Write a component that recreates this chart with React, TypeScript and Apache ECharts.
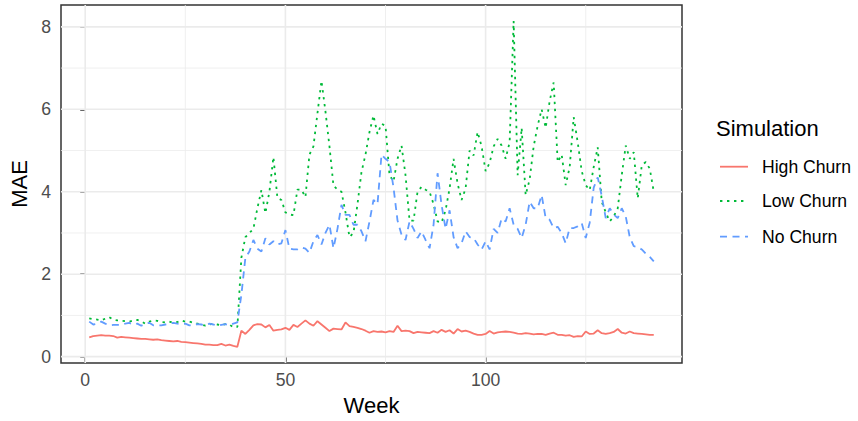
import React, { useEffect, useRef } from "react";
import * as echarts from "echarts";

const weeks: number[] = Array.from({ length: 142 }, (_, i) => i + 1);

const highChurn = [
  0.47, 0.5, 0.51, 0.52, 0.51, 0.51, 0.5, 0.46, 0.48, 0.47,
  0.46, 0.45, 0.44, 0.43, 0.43, 0.42, 0.41, 0.42, 0.4, 0.39,
  0.38, 0.37, 0.38, 0.36, 0.35, 0.34, 0.33, 0.32, 0.31, 0.29,
  0.29, 0.28, 0.28, 0.31, 0.27, 0.29, 0.26, 0.24,
  0.63, 0.55, 0.65, 0.76, 0.79, 0.78, 0.71, 0.77, 0.63, 0.65, 0.66, 0.7,
  0.65, 0.77, 0.72, 0.8, 0.88, 0.8, 0.75, 0.86, 0.78, 0.7,
  0.62, 0.68, 0.67, 0.66, 0.83, 0.74, 0.72, 0.7, 0.67, 0.63,
  0.58, 0.62, 0.6, 0.61, 0.59, 0.62, 0.6, 0.75, 0.62, 0.63,
  0.62, 0.57, 0.6, 0.59, 0.58, 0.57, 0.62, 0.58, 0.65, 0.6,
  0.64, 0.56, 0.67, 0.61, 0.63, 0.6, 0.56, 0.53, 0.53, 0.55,
  0.62, 0.56, 0.59, 0.6, 0.61, 0.6, 0.58, 0.56, 0.55, 0.57,
  0.56, 0.54, 0.55, 0.55, 0.53, 0.56, 0.58, 0.53, 0.53, 0.51,
  0.52, 0.48, 0.5, 0.49, 0.61, 0.55, 0.56, 0.64, 0.57, 0.55,
  0.57, 0.6, 0.67, 0.58, 0.56, 0.61, 0.57, 0.56, 0.55, 0.54, 0.53, 0.53,
];

const lowChurn = [
  0.93, 0.91, 0.9, 0.88, 0.92, 0.96, 0.9, 0.88, 0.87, 0.86,
  0.85, 0.88, 0.89, 0.86, 0.8, 0.85, 0.88, 0.87, 0.84, 0.83,
  0.85, 0.82, 0.84, 0.88, 0.85, 0.85, 0.82, 0.8, 0.78, 0.75,
  0.78, 0.8, 0.78, 0.76, 0.79, 0.78, 0.71, 0.72,
  2.4, 2.9, 3.0, 3.1, 3.6, 4.04, 3.48, 4.0, 4.84, 3.85, 3.8, 3.5,
  3.45, 3.43, 4.05, 4.05, 3.87, 4.9, 5.1, 5.9, 6.69, 5.95,
  5.1, 4.15, 4.05, 4.0, 3.5, 2.9, 3.0, 3.7, 4.48, 4.9,
  5.45, 5.85, 5.4, 5.65, 5.6, 4.4, 4.25, 4.8, 5.12, 4.4,
  3.3, 3.3, 4.0, 4.12, 4.05, 4.0, 3.7, 3.28, 3.25, 3.55,
  4.08, 4.8, 4.2, 3.8, 4.08, 5.0, 4.88, 5.45, 5.1, 4.5,
  4.7, 5.1, 5.28, 5.12, 4.8, 5.2, 8.14, 4.4, 5.55, 3.92,
  4.3, 5.1, 5.6, 6.0, 5.55, 6.2, 6.65, 4.72, 4.9, 4.16,
  4.6, 5.81, 5.2, 4.5, 4.16, 4.04, 4.6, 5.08, 3.76, 3.5,
  3.28, 3.4, 3.6, 4.4, 5.12, 4.8, 4.96, 3.84, 4.64, 4.72, 4.56, 4.0,
];

const noChurn = [
  0.85, 0.78, 0.8, 0.85, 0.8, 0.76, 0.77, 0.77, 0.77, 0.8,
  0.82, 0.78, 0.8, 0.75, 0.8, 0.82, 0.76, 0.76, 0.76, 0.78,
  0.8, 0.82, 0.8, 0.79, 0.8, 0.76, 0.75, 0.79, 0.78, 0.76,
  0.8, 0.78, 0.75, 0.77, 0.79, 0.76, 0.8, 0.83,
  1.5, 2.4, 2.55, 2.83, 2.62, 2.55, 2.87, 2.72, 2.8, 2.72, 2.75, 3.07,
  2.62, 2.6, 2.6, 2.65, 2.62, 2.52, 2.8, 2.95, 2.72, 3.0,
  3.2, 2.63, 3.1, 3.68, 3.44, 3.44, 3.2, 3.2, 3.04, 2.8,
  3.28, 3.8, 3.7, 4.9, 4.8, 4.72, 4.1, 3.3, 2.96, 2.83,
  3.28, 3.1, 2.88, 3.04, 2.83, 2.63, 3.2, 4.45, 3.68, 3.1,
  3.55, 2.9, 2.63, 2.75, 3.04, 2.9, 2.88, 2.72, 2.6, 2.8,
  2.6, 3.1, 3.0, 3.35, 3.28, 3.6, 3.2, 3.1, 2.88, 3.2,
  3.76, 3.6, 3.6, 3.92, 3.36, 3.32, 3.12, 3.15, 3.0, 2.75,
  3.12, 3.12, 3.16, 3.24, 2.88, 3.25, 4.1, 4.35, 3.9, 3.36,
  3.6, 3.45, 3.36, 3.6, 3.4, 2.9, 2.68, 2.66, 2.6, 2.5, 2.42, 2.31,
];

const seriesNames = ["High Churn", "Low Churn", "No Churn"];
const seriesColors = ["#F8766D", "#00BA38", "#619CFF"];
const seriesDash: (number[] | null)[] = [null, [2.4, 4.6], [7, 5.5]];
const xTickValues = [0, 50, 100];
const xMinorValues = [25, 75, 125];
const yTickValues = [0, 2, 4, 6, 8];
const yMinorValues = [1, 3, 5, 7];

const X_MIN = -6.05;
const X_MAX = 149.05;
const Y_MIN = -0.154;
const Y_MAX = 8.53;
const FONT = "Liberation Sans, Arial, Helvetica, sans-serif";
const LINE_W = 1.8;

function gridLine(v: number, vertical: boolean, width: number) {
  return {
    type: "line",
    name: "grid",
    data: vertical
      ? [
          [v, Y_MIN],
          [v, Y_MAX],
        ]
      : [
          [X_MIN, v],
          [X_MAX, v],
        ],
    symbol: "none",
    silent: true,
    z: 1,
    lineStyle: { color: "#EBEBEB", width },
  };
}

export default function App() {
  const ref = useRef<HTMLDivElement>(null);
  useEffect(() => {
    document.body.style.margin = "0";
    const chart = echarts.init(ref.current!, undefined, { renderer: "svg" });
    const dataSeries = [highChurn, lowChurn, noChurn].map((vals, i) => ({
      type: "line",
      name: seriesNames[i],
      data: weeks.map((w, j) => [w, vals[j]]),
      symbol: "none",
      z: 3,
      lineStyle: {
        color: seriesColors[i],
        width: LINE_W,
        type: seriesDash[i] ?? "solid",
        cap: "butt",
      },
      itemStyle: { color: seriesColors[i] },
    }));
    const grids = [
      ...xMinorValues.map((v) => gridLine(v, true, 0.8)),
      ...yMinorValues.map((v) => gridLine(v, false, 0.8)),
      ...xTickValues.map((v) => gridLine(v, true, 1.6)),
      ...yTickValues.map((v) => gridLine(v, false, 1.6)),
    ];
    const legendRowY = [166.7, 201, 236.7];
    const legendGraphics: any[] = [
      {
        type: "text",
        left: 716,
        top: 117,
        style: {
          text: "Simulation",
          fontSize: 22,
          fontFamily: FONT,
          fill: "#000000",
        },
      },
    ];
    seriesNames.forEach((name, i) => {
      legendGraphics.push({
        type: "line",
        shape: { x1: 720, y1: legendRowY[i], x2: 748, y2: legendRowY[i] },
        style: {
          stroke: seriesColors[i],
          lineWidth: LINE_W,
          lineDash: seriesDash[i] ?? undefined,
          lineCap: "butt",
        },
      });
      legendGraphics.push({
        type: "text",
        x: 762,
        y: legendRowY[i],
        style: {
          text: name,
          fontSize: 17.6,
          fontFamily: FONT,
          fill: "#000000",
          verticalAlign: "middle",
          align: "left",
        },
      });
    });
    chart.setOption({
      animation: false,
      backgroundColor: "#FFFFFF",
      textStyle: { fontFamily: FONT },
      grid: {
        left: 61,
        top: 5,
        right: 176,
        bottom: 55,
        show: true,
        borderColor: "#333333",
        borderWidth: 1.5,
        backgroundColor: "#FFFFFF",
        z: 0,
      },
      xAxis: {
        type: "value",
        min: X_MIN,
        max: X_MAX,
        name: "Week",
        nameLocation: "middle",
        nameGap: 31,
        nameTextStyle: { fontSize: 22, color: "#000000", fontFamily: FONT, verticalAlign: "top" },
        axisLine: { show: false },
        splitLine: { show: false },
        axisTick: {
          show: true,
          customValues: xTickValues,
          length: 5,
          lineStyle: { color: "#333333", width: 1.5 },
        },
        axisLabel: {
          customValues: xTickValues,
          color: "#4D4D4D",
          fontSize: 17.6,
          fontFamily: FONT,
          margin: 8,
        },
      },
      yAxis: {
        type: "value",
        min: Y_MIN,
        max: Y_MAX,
        name: "MAE",
        nameLocation: "middle",
        nameGap: 26,
        nameRotate: 90,
        nameTextStyle: { fontSize: 22, color: "#000000", fontFamily: FONT },
        axisLine: { show: false },
        splitLine: { show: false },
        axisTick: {
          show: true,
          customValues: yTickValues,
          length: 5,
          lineStyle: { color: "#333333", width: 1.5 },
        },
        axisLabel: {
          customValues: yTickValues,
          color: "#4D4D4D",
          fontSize: 17.6,
          fontFamily: FONT,
          margin: 10,
        },
      },
      graphic: legendGraphics,
      series: [...grids, ...dataSeries],
    });
    return () => chart.dispose();
  }, []);
  return <div ref={ref} style={{ width: 858, height: 421 }} />;
}
